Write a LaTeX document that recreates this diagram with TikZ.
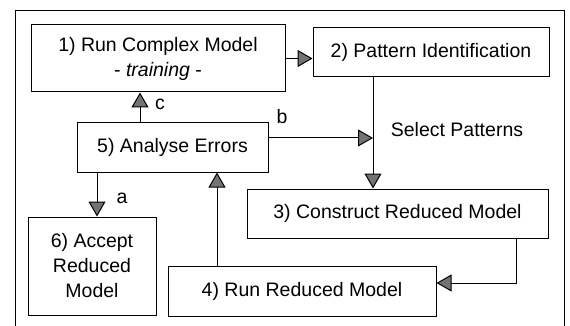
\documentclass[tikz,border=0pt]{standalone}
\usepackage{fontspec}
\setmainfont{Liberation Sans}
\usetikzlibrary{arrows.meta}

\begin{document}
\begin{tikzpicture}[x=1pt, y=-1pt,
        stage/.style={draw, line width=1pt, align=center, inner sep=0pt, font=\fontsize{19.5}{25}\selectfont},
        tag/.style={font=\fontsize{19.5}{25}\selectfont},
        arr/.style={line width=1pt, -{Triangle[length=15pt, width=17pt, fill=black!55]}}]
        \useasboundingbox (0,0) rectangle (570,326);
        \draw[line width=0.8pt] (15,326) -- (15,10) -- (564,10) -- (564,326);
        \node[stage, minimum width=254, minimum height=67] (run) at (158,58.5) {1) Run Complex Model\\ - \textit{training} -};
        \node[stage, minimum width=236, minimum height=49] (pattern) at (431,52.5) {2) Pattern Identification};
        \node[stage, minimum width=301, minimum height=49] (construct) at (397.5,213.5) {3) Construct Reduced Model};
        \node[stage, minimum width=268, minimum height=50] (runred) at (302,291) {4) Run Reduced Model};
        \node[stage, minimum width=191, minimum height=49] (errors) at (172.5,147.5) {5) Analyse Errors};
        \node[stage, minimum width=128, minimum height=98] (accept) at (92,266) {6) Accept\\ Reduced\\ Model};
        \coordinate (select) at (373,138);
        \draw[arr] (run.east) -- (run.east -| pattern.west);
        \draw[arr] (select |- pattern.south) -- (select |- construct.north);
        \draw[arr] ([yshift=9.5]errors.east) -- (select);
        \draw[arr] ([xshift=-32.5]errors.north) -- ([xshift=-32.5]errors.north |- run.south);
        \draw[arr] ([xshift=-75.5]errors.south) -- ([xshift=-75.5]errors.south |- accept.north);
        \draw[arr] ([xshift=-85]runred.north) -- ([xshift=-85]runred.north |- errors.south);
        \draw[arr] ([xshift=118.5]construct.south) |- ([yshift=8]runred.east);
        \node[tag] (labc) at (160,104) {c};
        \node[tag] (labb) at (282,117) {b};
        \node[tag] (laba) at (122,198) {a};
        \node[tag] (labsel) at (457,130) {Select Patterns};
    \end{tikzpicture}
\end{document}
